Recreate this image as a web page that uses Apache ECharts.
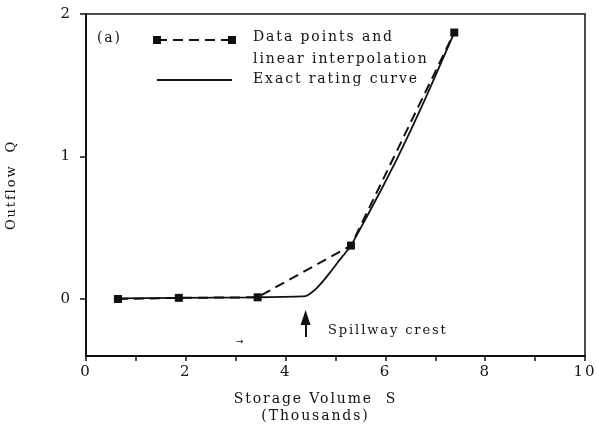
<!DOCTYPE html>
<html>
<head>
<meta charset="utf-8">
<script src="https://cdn.jsdelivr.net/npm/echarts@6/dist/echarts.min.js"></script>
<style>
  html, body { margin: 0; padding: 0; background: #fff; }
  #main { width: 597px; height: 425px; }
</style>
</head>
<body>
<div id="main"></div>
<script>
// data points (storage S in thousands, outflow Q)
const dataS = [0.64, 1.86, 3.44, 5.31, 7.38];
const dataQ = [0.0, 0.008, 0.012, 0.375, 1.87];

// exact rating curve
const curveS = [0.64, 1.86, 3.44, 4.4, 4.5, 4.62, 4.75, 4.9, 5.05, 5.2, 5.31, 5.6, 5.9, 6.2, 6.5, 6.8, 7.1, 7.38];
const curveQ = [0.004, 0.008, 0.012, 0.02, 0.04, 0.075, 0.125, 0.19, 0.26, 0.325, 0.375, 0.56, 0.756, 0.961, 1.178, 1.406, 1.644, 1.87];

const yTicks = [0, 1, 2];
const spillwayS = 4.4;

const serif = 'DejaVu Serif';
const ink = '#111';

const chartDom = document.getElementById('main');
const myChart = echarts.init(chartDom);

const option = {
  animation: false,
  backgroundColor: '#fff',
  grid: {
    left: 86, right: 12, top: 14, bottom: 69,
    outerBoundsMode: 'none',
    containLabel: false,
    show: true, borderColor: ink, borderWidth: 1.5
  },
  xAxis: {
    type: 'value',
    min: 0, max: 10, interval: 2,
    name: 'Storage Volume  S\n(Thousands)',
    nameLocation: 'middle',
    nameGap: 35,
    nameTextStyle: {
      fontFamily: serif, fontSize: 14, color: ink, lineHeight: 17,
      padding: [0, 40, 0, 0]
    },
    axisLine: { onZero: false, lineStyle: { color: ink, width: 2 } },
    axisTick: { show: true, length: 5, lineStyle: { color: ink, width: 1.5 } },
    minorTick: { show: true, splitNumber: 2, length: 5, lineStyle: { color: ink, width: 1.5 } },
    splitLine: { show: false },
    axisLabel: { fontFamily: serif, fontSize: 15, color: ink, margin: 9 }
  },
  yAxis: {
    type: 'value',
    min: -0.4, max: 2,
    name: 'Outflow  Q',
    nameLocation: 'middle',
    nameGap: 68,
    nameTextStyle: { fontFamily: serif, fontSize: 13, color: ink },
    axisLine: { onZero: false, lineStyle: { color: ink, width: 2 } },
    axisTick: { show: true, length: 6, customValues: yTicks, lineStyle: { color: ink, width: 1.5 } },
    splitLine: { show: false },
    axisLabel: { fontFamily: serif, fontSize: 15, color: ink, margin: 14, customValues: yTicks }
  },
  series: [
    {
      name: 'Exact rating curve',
      type: 'line',
      data: curveS.map((s, i) => [s, curveQ[i]]),
      smooth: 0.2,
      showSymbol: false,
      lineStyle: { color: ink, width: 1.8 },
      markLine: {
        silent: true,
        symbol: ['none', 'triangle'],
        symbolSize: [10, 15],
        label: { show: false },
        lineStyle: { color: ink, width: 2, type: 'solid' },
        data: [[{ coord: [spillwayS, -0.267] }, { coord: [spillwayS, -0.13] }]]
      }
    },
    {
      name: 'Data points and linear interpolation',
      type: 'line',
      data: dataS.map((s, i) => [s, dataQ[i]]),
      symbol: 'rect',
      symbolSize: 8,
      itemStyle: { color: ink },
      lineStyle: { color: ink, width: 2, type: [10, 6] }
    }
  ],
  graphic: [
    { type: 'text', left: 97, top: 31, style: { text: '(a)', font: '14px "DejaVu Serif"', fill: ink } },
    // legend sample: dashed line with squares
    { type: 'line', shape: { x1: 157, y1: 40, x2: 232, y2: 40 }, style: { stroke: ink, lineWidth: 2, lineDash: [10, 6] } },
    { type: 'rect', shape: { x: 153, y: 36, width: 8, height: 8 }, style: { fill: ink } },
    { type: 'rect', shape: { x: 228, y: 36, width: 8, height: 8 }, style: { fill: ink } },
    { type: 'text', left: 253, top: 30, style: { text: 'Data points and', font: '14px "DejaVu Serif"', fill: ink } },
    { type: 'text', left: 253, top: 52, style: { text: 'linear interpolation', font: '14px "DejaVu Serif"', fill: ink } },
    // legend sample: solid line
    { type: 'line', shape: { x1: 157, y1: 80, x2: 232, y2: 80 }, style: { stroke: ink, lineWidth: 2 } },
    { type: 'text', left: 253, top: 72, style: { text: 'Exact rating curve', font: '14px "DejaVu Serif"', fill: ink } },
    // annotation
    { type: 'text', left: 328, top: 324, style: { text: 'Spillway crest', font: '13px "DejaVu Serif"', fill: ink } },
    { type: 'text', left: 236, top: 337, style: { text: '\u2192', font: '9px "DejaVu Sans"', fill: ink } }
  ]
};

option && myChart.setOption(option);

// the scanned figure uses a widely spaced serif face: widen the letters, then repaint
const cv = chartDom.querySelector('canvas');
if (cv) {
  const ctx = cv.getContext('2d');
  if ('letterSpacing' in ctx) {
    ctx.letterSpacing = '1.9px';
    myChart.getZr().painter.refresh(true);
  }
}
</script>
</body>
</html>
